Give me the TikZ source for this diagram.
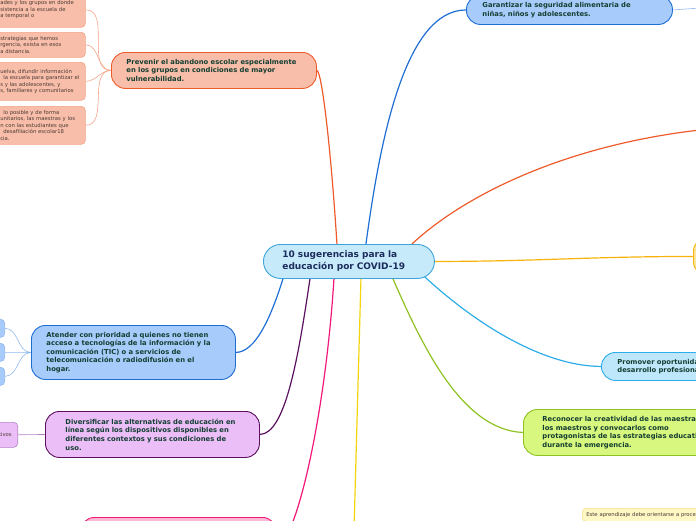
\documentclass[tikz,border=0pt]{standalone}
\usepackage{fontspec}
\setmainfont{DejaVu Sans}
\definecolor{cenfill}{HTML}{C6EAFA}
\definecolor{cenline}{HTML}{3DA5DA}
\definecolor{centext}{HTML}{1C2C5C}
\definecolor{topictext}{HTML}{143E32}
\definecolor{subtext}{HTML}{4A3A34}
\definecolor{salfill}{HTML}{F8BEA9}
\definecolor{salline}{HTML}{EE5B2B}
\definecolor{saltwig}{HTML}{F5A487}
\definecolor{bluefill}{HTML}{A7CBFA}
\definecolor{blueline}{HTML}{1F6ED3}
\definecolor{bluetwig}{HTML}{8EB8F0}
\definecolor{violfill}{HTML}{EBBEF7}
\definecolor{violline}{HTML}{5B1060}
\definecolor{violtwig}{HTML}{B47FC8}
\definecolor{pinkline}{HTML}{F2177B}
\definecolor{pinkfill}{HTML}{F9B8D4}
\definecolor{goldline}{HTML}{F2D40A}
\definecolor{ambline}{HTML}{F7B30C}
\definecolor{ambfill}{HTML}{FCE79A}
\definecolor{skyline}{HTML}{2DAEE8}
\definecolor{skyfill}{HTML}{BFE7FB}
\definecolor{limeline}{HTML}{8DC220}
\definecolor{limefill}{HTML}{D8F77E}
\definecolor{notefill}{HTML}{FFF7C4}
\definecolor{noteline}{HTML}{F3E08C}
\pgfdeclarelayer{bg}
\pgfsetlayers{bg,main}

\begin{document}
\begin{tikzpicture}[x=1pt,y=-1pt,
 topic/.style={anchor=north west,align=left,rounded corners=14pt,line width=0.9pt,
 inner ysep=0pt,text=topictext,font=\fontsize{6.8}{8.6}\selectfont\bfseries},
 subbox/.style={align=left,rounded corners=4pt,line width=0.6pt,inner xsep=5pt,
 inner ysep=0pt,text=subtext,font=\fontsize{5.3}{6.4}\selectfont},
 branch/.style={line width=1.2pt},
 twig/.style={line width=0.6pt}]
 \useasboundingbox (0,0) rectangle (696,520);
 \clip (0,0) rectangle (696,520);
 % central topic
 \node[topic,fill=cenfill,draw=cenline,rounded corners=17pt,text=centext,
 font=\fontsize{9}{12}\selectfont\bfseries,inner xsep=19pt,text width=133pt,
 minimum height=34pt] (cen) at (263,244) {10 sugerencias para la\\educación por COVID-19};
 % main topics
 \node[topic,fill=salfill,draw=salline,inner xsep=15pt,text width=175pt,minimum height=36pt]
 (prev) at (111,52) {Prevenir el abandono escolar especialmente\\en los grupos en condiciones de mayor\\vulnerabilidad.};
 \node[topic,fill=bluefill,draw=blueline,inner xsep=16pt,text width=174pt,minimum height=29pt]
 (gar) at (466,-5) {Garantizar la seguridad alimentaria de\\niñas, niños y adolescentes.};
 \node[topic,fill=ambfill,draw=ambline,minimum width=200pt,minimum height=38pt] (amb) at (693,237) {};
 \node[topic,fill=skyfill,draw=skyline,inner xsep=16pt,text width=180pt,minimum height=28pt]
 (prom) at (601,352) {Promover oportunidades de\\desarrollo profesional};
 \node[topic,fill=limefill,draw=limeline,inner xsep=19pt,text width=190pt,minimum height=46pt]
 (rec) at (523,409) {Reconocer la creatividad de las maestras y\\los maestros y convocarlos como\\protagonistas de las estrategias educativas\\durante la emergencia.};
 \node[topic,fill=bluefill,draw=blueline,inner xsep=15pt,text width=174pt,minimum height=54pt]
 (att) at (31,325) {Atender con prioridad a quienes no tienen\\acceso a tecnologías de la información y la\\comunicación (TIC) o a servicios de\\telecomunicación o radiodifusión en el\\hogar.};
 \node[topic,fill=violfill,draw=violline,inner xsep=20pt,text width=174pt,minimum height=46pt]
 (div) at (45,411) {Diversificar las alternativas de educación en\\línea según los dispositivos disponibles en\\diferentes contextos y sus condiciones de\\uso.};
 \node[topic,fill=pinkfill,draw=pinkline,minimum width=196pt,minimum height=56pt] (pink) at (80,517) {};
 % subtopics
 \node[subbox,fill=salfill,draw=saltwig,anchor=north west,text width=80pt,minimum height=35pt]
 (ps1) at (-5,-8) {ades y los grupos en donde\\sistencia a la escuela de\\a temporal o};
 \node[subbox,fill=salfill,draw=saltwig,anchor=north west,text width=80pt,minimum height=25pt]
 (ps2) at (-5,32) {strategias que hemos\\rgencia, exista en esos\\a distancia.};
 \node[subbox,fill=salfill,draw=saltwig,anchor=north west,text width=80pt,minimum height=38pt]
 (ps3) at (-5,62) {uelva, difundir información\\\hspace*{3pt}la escuela para garantizar el\\s y las adolescentes, y\\s, familiares y comunitarios};
 \node[subbox,fill=salfill,draw=saltwig,anchor=north west,text width=80pt,minimum height=38pt]
 (ps4) at (-5,106) {\hspace*{3pt}lo posible y de forma\\unitarios, las maestras y los\\n con las estudiantes que\\\hspace*{3pt}desafiliación escolar18\\cia.};
 \node[subbox,fill=bluefill,draw=bluetwig,anchor=north east,minimum width=40pt,minimum height=18pt] (as1) at (5,319) {};
 \node[subbox,fill=bluefill,draw=bluetwig,anchor=north east,minimum width=40pt,minimum height=18pt] (as2) at (5,343) {};
 \node[subbox,fill=bluefill,draw=bluetwig,anchor=north east,minimum width=40pt,minimum height=18pt] (as3) at (5,367) {};
 \node[subbox,fill=violfill,draw=violtwig,anchor=north east,align=right,text width=30pt,
 inner xsep=6pt,minimum height=25pt] (ds) at (18,422) {tivos};
 \node[subbox,fill=notefill,draw=noteline,anchor=north west,inner xsep=4pt,inner ysep=4pt,
 text width=190pt] (note) at (582,508) {Este aprendizaje debe orientarse a procesos};
 \coordinate (garend) at (700,8);
 \coordinate (redend) at (720,128);
 \coordinate (goldend) at (354,530);
 \begin{pgfonlayer}{bg}
 \draw[branch,salline] ([xshift=-12pt]cen.north) .. controls (331,150) and (322,72) .. (prev.east);
 \draw[branch,blueline] ([xshift=17pt]cen.north) .. controls (380,140) and (405,10) .. (gar.west);
 \draw[branch,salline] ([xshift=63pt]cen.north) .. controls (470,190) and (580,140) .. (redend);
 \draw[branch,ambline] (cen.east) to[out=0,in=180] (amb.west);
 \draw[branch,skyline] ([shift={(70,10)}]cen.center) .. controls (470,320) and (540,366) .. (prom.west);
 \draw[branch,limeline] ([xshift=44pt]cen.south) .. controls (420,340) and (460,430) .. (rec.west);
 \draw[branch,goldline] ([xshift=12pt]cen.south) -- (goldend);
 \draw[branch,pinkline] ([xshift=-15pt]cen.south) .. controls (325,420) and (295,545) .. (pink.east);
 \draw[branch,violline] ([xshift=-39pt]cen.south) .. controls (298,360) and (285,434) .. (div.east);
 \draw[branch,blueline] ([xshift=-66pt]cen.south) .. controls (270,320) and (255,352) .. (att.east);
 \draw[twig,bluetwig] (gar.east) -- (garend);
 \foreach \s in {ps1,ps2,ps3,ps4}
 \draw[twig,saltwig] (prev.west) to[out=180,in=0] (\s.east);
 \foreach \s in {as1,as2,as3}
 \draw[twig,bluetwig] (att.west) to[out=180,in=0] (\s.east);
 \draw[twig,violtwig] (div.west) -- (ds.east);
 \end{pgfonlayer}
\end{tikzpicture}
\end{document}
